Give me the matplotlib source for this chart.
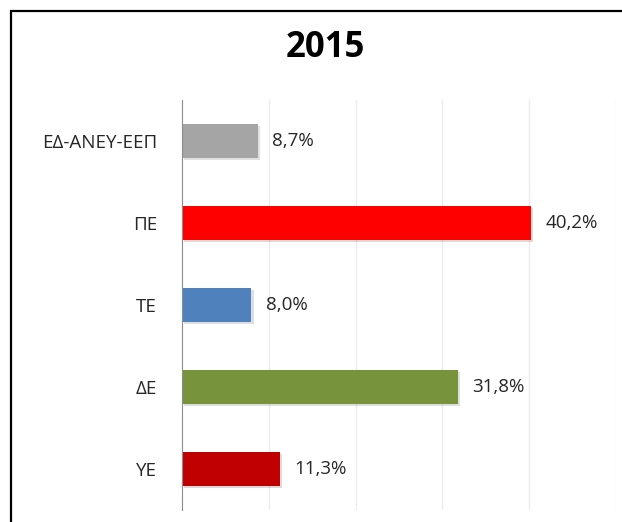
import matplotlib
matplotlib.use("Agg")
from matplotlib import pyplot as plt
from matplotlib import patheffects
from matplotlib.patches import Rectangle

categories = ["ΕΔ-ΑΝΕΥ-ΕΕΠ", "ΠΕ", "ΤΕ", "ΔΕ", "ΥΕ"]
values = [8.7, 40.2, 8.0, 31.8, 11.3]
colors = ["#A5A5A5", "#FF0000", "#4F81BD", "#77933C", "#C00000"]
title = "2015"

plt.rcParams['font.family'] = ['Open Sans', 'DejaVu Sans']

fig = plt.figure(figsize=(6.22, 5.22), dpi=100)
ax = fig.add_axes([182/622, 1-510/522, (616-182)/622, (510-100)/522])

ypos = list(range(len(categories)))
bars = ax.barh(ypos, values, height=0.41, color=colors, zorder=3)
for b in bars:
    b.set_path_effects([patheffects.SimplePatchShadow(offset=(1.5, -1.5), alpha=0.15), patheffects.Normal()])

for y, v in zip(ypos, values):
    ax.annotate(f"{v:.1f}%".replace(".", ","), (v, y), xytext=(10.5, 0), textcoords="offset points",
                va="center", ha="left", fontsize=13.5, color="#262626")

ax.set_xlim(0, 50)
ax.set_ylim(len(categories)-0.5, -0.5)
ax.set_yticks(ypos)
ax.set_yticklabels(categories, fontsize=13.5, color="#262626")
ax.tick_params(axis="y", length=0, pad=18)
ax.set_xticks([10, 20, 30, 40, 50])
ax.tick_params(axis="x", length=0, labelbottom=False)
ax.grid(axis="x", color="#EBEBEB", linewidth=1, zorder=0)
for s in ["top", "right", "bottom"]:
    ax.spines[s].set_visible(False)
ax.spines["left"].set_color("#8C8C8C")
ax.spines["left"].set_zorder(4)

fig.text(325/622, 1-48/522, title, ha="center", va="center", fontsize=25, fontweight="bold", color="#000000")

# black frame of the pasted image, open to the right and bottom
fig.patches.append(Rectangle((11/622, -0.1), 1.2, 1-11/522+0.1, transform=fig.transFigure,
                             fill=False, edgecolor="black", linewidth=1.6))

fig.savefig("out.png", dpi=100)
